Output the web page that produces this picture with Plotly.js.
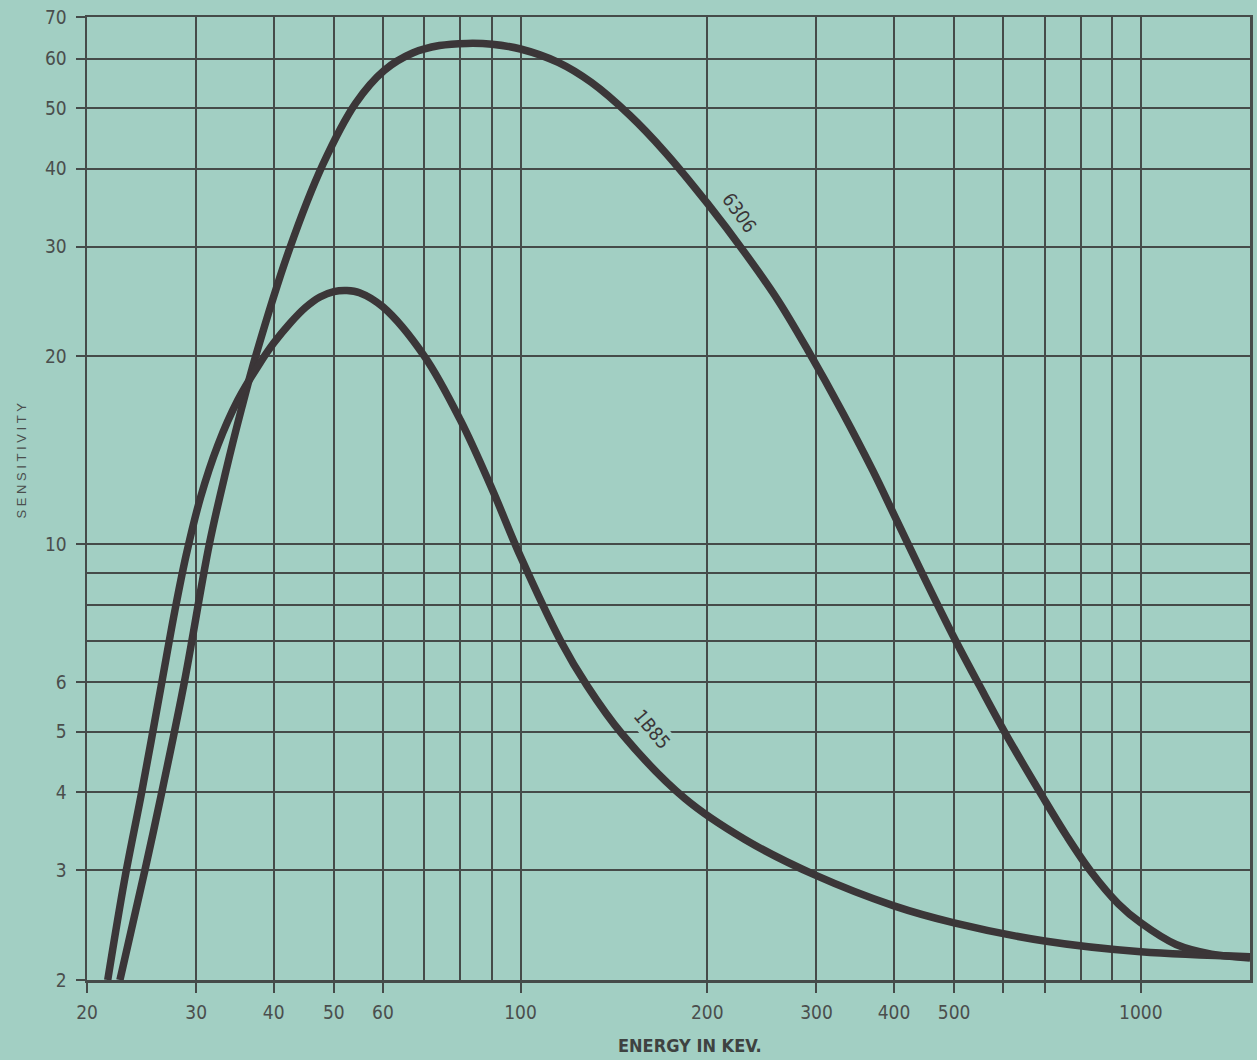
<!DOCTYPE html>
<html>
<head>
<meta charset="utf-8">
<script src="https://cdn.plot.ly/plotly-3.0.1.min.js"></script>
<style>
  html, body { margin: 0; padding: 0; background: #a2cfc3; }
  #chart { width: 1257px; height: 1060px; }
  .annotation[data-index="2"] text { letter-spacing: 3.6px; }
</style>
</head>
<body>
<div id="chart"></div>
<script>
// Energy (keV) and sensitivity
const energy6306 = [22.6, 24.8, 26.4, 28.7, 31.5, 33.5, 35.5, 37.4, 42.4, 48, 54.2, 60.3, 67, 74, 82, 90, 100, 115, 130, 150, 171, 200, 230, 260, 291, 330, 370, 400, 446, 501, 550, 610, 693, 760, 832, 920, 1000, 1140, 1300, 1500];
const sens6306   = [2, 3, 4, 6, 10, 13.1, 16.5, 20, 29.7, 40.6, 50.9, 57.5, 61.3, 63, 63.5, 63.3, 62.2, 59.2, 55, 48.7, 42.5, 35.2, 29.3, 24.6, 20.4, 16.3, 13.1, 11.15, 8.9, 7.05, 5.92, 4.9, 3.95, 3.4, 2.98, 2.65, 2.47, 2.28, 2.2, 2.17];

const energy1B85 = [21.6, 23.0, 24.5, 26.4, 27.7, 28.9, 30.5, 32.5, 35, 38, 40, 42.5, 45, 47.5, 50, 52.5, 55, 60, 70, 80, 90, 100, 116, 128, 146, 184, 230, 300, 400, 500, 700, 1000, 1500];
const sens1B85   = [2, 2.9, 4, 6, 7.8, 9.6, 11.9, 14.4, 17.0, 19.5, 21.0, 22.6, 23.95, 24.9, 25.4, 25.5, 25.3, 24.0, 20.0, 15.8, 12.24, 9.55, 7.0, 5.93, 4.95, 3.91, 3.36, 2.94, 2.63, 2.47, 2.31, 2.22, 2.18];

const xTickVals  = [20, 30, 40, 50, 60, 100, 200, 300, 400, 500, 600, 700, 1000];
const xTickText  = ['20', '30', '40', '50', '60', '100', '200', '300', '400', '500', '', '', '1000'];
const xMinorVals = [70, 80, 90, 800, 900];
const yTickVals  = [2, 3, 4, 5, 6, 10, 20, 30, 40, 50, 60, 70];
const yTickText  = ['2', '3', '4', '5', '6', '10', '20', '30', '40', '50', '60', '70'];
const yMinorVals = [7, 8, 9];

const seriesNames = ['6306', '1B85'];
const xTitle = 'ENERGY IN KEV.';
const yTitle = 'SENSITIVITY';

const BG = '#a2cfc3';
const INK = '#3b3638';
const GRID = '#454b49';
const TXT = '#4a4e4d';
const COND = '"DejaVu Sans Condensed", "Liberation Sans Narrow", sans-serif';

const lineStyle = {color: INK, width: 7.5, shape: 'spline', smoothing: 1};

const traces = [
  {x: energy6306, y: sens6306, name: seriesNames[0], type: 'scatter', mode: 'lines', line: lineStyle},
  {x: energy1B85, y: sens1B85, name: seriesNames[1], type: 'scatter', mode: 'lines', line: lineStyle}
];

const layout = {
  width: 1257,
  height: 1060,
  margin: {l: 87, r: 7, t: 17, b: 80},
  paper_bgcolor: BG,
  plot_bgcolor: BG,
  showlegend: false,
  font: {family: COND, color: TXT, size: 19},
  xaxis: {
    type: 'log',
    range: [Math.log10(20), Math.log10(1500)],
    tickmode: 'array',
    tickvals: xTickVals,
    ticktext: xTickText,
    ticks: 'outside',
    ticklen: 10,
    tickwidth: 2,
    tickcolor: GRID,
    ticklabelstandoff: 4,
    tickfont: {family: COND, size: 19, color: TXT},
    showgrid: true,
    gridcolor: GRID,
    gridwidth: 2,
    minor: {tickmode: 'array', tickvals: xMinorVals, showgrid: true, gridcolor: GRID, gridwidth: 2, ticks: ''},
    showline: true,
    mirror: true,
    linecolor: GRID,
    linewidth: 2.5,
    zeroline: false
  },
  yaxis: {
    type: 'log',
    range: [Math.log10(2), Math.log10(70)],
    tickmode: 'array',
    tickvals: yTickVals,
    ticktext: yTickText,
    ticks: 'outside',
    ticklen: 9,
    tickwidth: 2,
    tickcolor: GRID,
    ticklabelstandoff: 5,
    tickfont: {family: COND, size: 19, color: TXT},
    showgrid: true,
    gridcolor: GRID,
    gridwidth: 2,
    minor: {tickmode: 'array', tickvals: yMinorVals, showgrid: true, gridcolor: GRID, gridwidth: 2, ticks: ''},
    showline: true,
    mirror: true,
    linecolor: GRID,
    linewidth: 2.5,
    zeroline: false
  },
  annotations: [
    {text: seriesNames[0], xref: 'x', yref: 'y', x: Math.log10(226), y: Math.log10(34),
     showarrow: false, textangle: 54, font: {family: COND, size: 19, color: INK}},
    {text: seriesNames[1], xref: 'x', yref: 'y', x: Math.log10(163), y: Math.log10(5.05),
     showarrow: false, textangle: 50, bgcolor: BG, borderpad: 1,
     font: {family: COND, size: 19, color: INK}},
    {text: yTitle, xref: 'paper', yref: 'paper', x: -0.057, y: 0.541,
     xanchor: 'center', yanchor: 'middle', showarrow: false, textangle: -90,
     font: {family: '"Liberation Sans", sans-serif', size: 13, color: '#4a4e4d'}},
    {text: xTitle, xref: 'paper', yref: 'paper', x: 0.5185, y: -0.0675,
     xanchor: 'center', yanchor: 'middle', showarrow: false,
     font: {family: COND, size: 18, color: '#3e4241', weight: 'bold'}}
  ]
};

Plotly.newPlot('chart', traces, layout, {displayModeBar: false, staticPlot: true});
</script>
</body>
</html>
